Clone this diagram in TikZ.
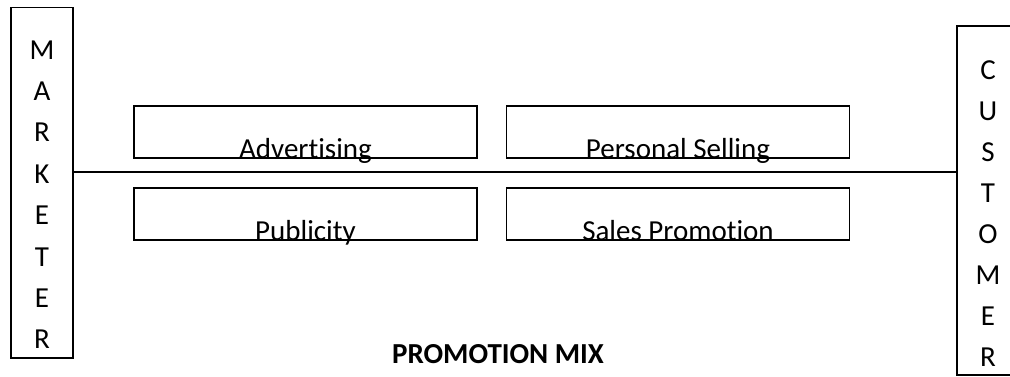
\documentclass[tikz,border=0pt]{standalone}
\usepackage{fontspec}
\setmainfont{Carlito}[Ligatures=CommonOff]
\begin{document}
\begin{tikzpicture}[x=1pt,y=-1pt,
  frame/.style={draw=black,line width=1.3pt},
  mixbox/.style={draw=black,line width=1.3pt,rectangle,minimum width=343pt,minimum height=52pt,inner sep=0pt},
  label/.style={font=\fontsize{29}{35}\selectfont,anchor=base,inner sep=0pt},
  letter/.style={font=\fontsize{29}{35}\selectfont,anchor=base,inner sep=0pt}]
\useasboundingbox (0,0) rectangle (1010,376);
\clip (0,0) rectangle (1010,376);

% side boxes
\node[frame,rectangle,minimum width=62pt,minimum height=350.5pt,inner sep=0pt] (mk) at (42,182.75) {};
\node[frame,rectangle,minimum width=70pt,minimum height=349pt,inner sep=0pt] (cu) at (992,200.5) {};

% vertical lettering
\foreach \c [count=\i from 0] in {M,A,R,K,E,T,E,R}
  \node[letter] (mk\i) at (42,59+41.4*\i) {\c};
\foreach \c [count=\i from 0] in {C,U,S,T,O,M,E,R}
  \node[letter] (cu\i) at (988,79+41*\i) {\c};

% link between marketer and customer
\coordinate (mid) at (505,172);
\draw[line width=1.3pt] (mk.east |- mid) -- (cu.west |- mid);

% promotion mix elements
\node[mixbox] (adv) at (305.5,132) {};
\node[mixbox] (pub) at (305.5,214) {};
\node[mixbox] (ps) at (678,132) {};
\node[mixbox] (sp) at (678,214) {};
\node[label] (advt) at (adv.south) {Advertising};
\node[label] (pubt) at (pub.south) {Publicity};
\node[label] (pst) at (ps.south) {Personal Selling};
\node[label] (spt) at (sp.south) {Sales Promotion};

\node[font=\bfseries\fontsize{29}{35}\selectfont,anchor=base,inner sep=0pt] (title) at (498,363) {PROMOTION MIX};
\end{tikzpicture}
\end{document}
